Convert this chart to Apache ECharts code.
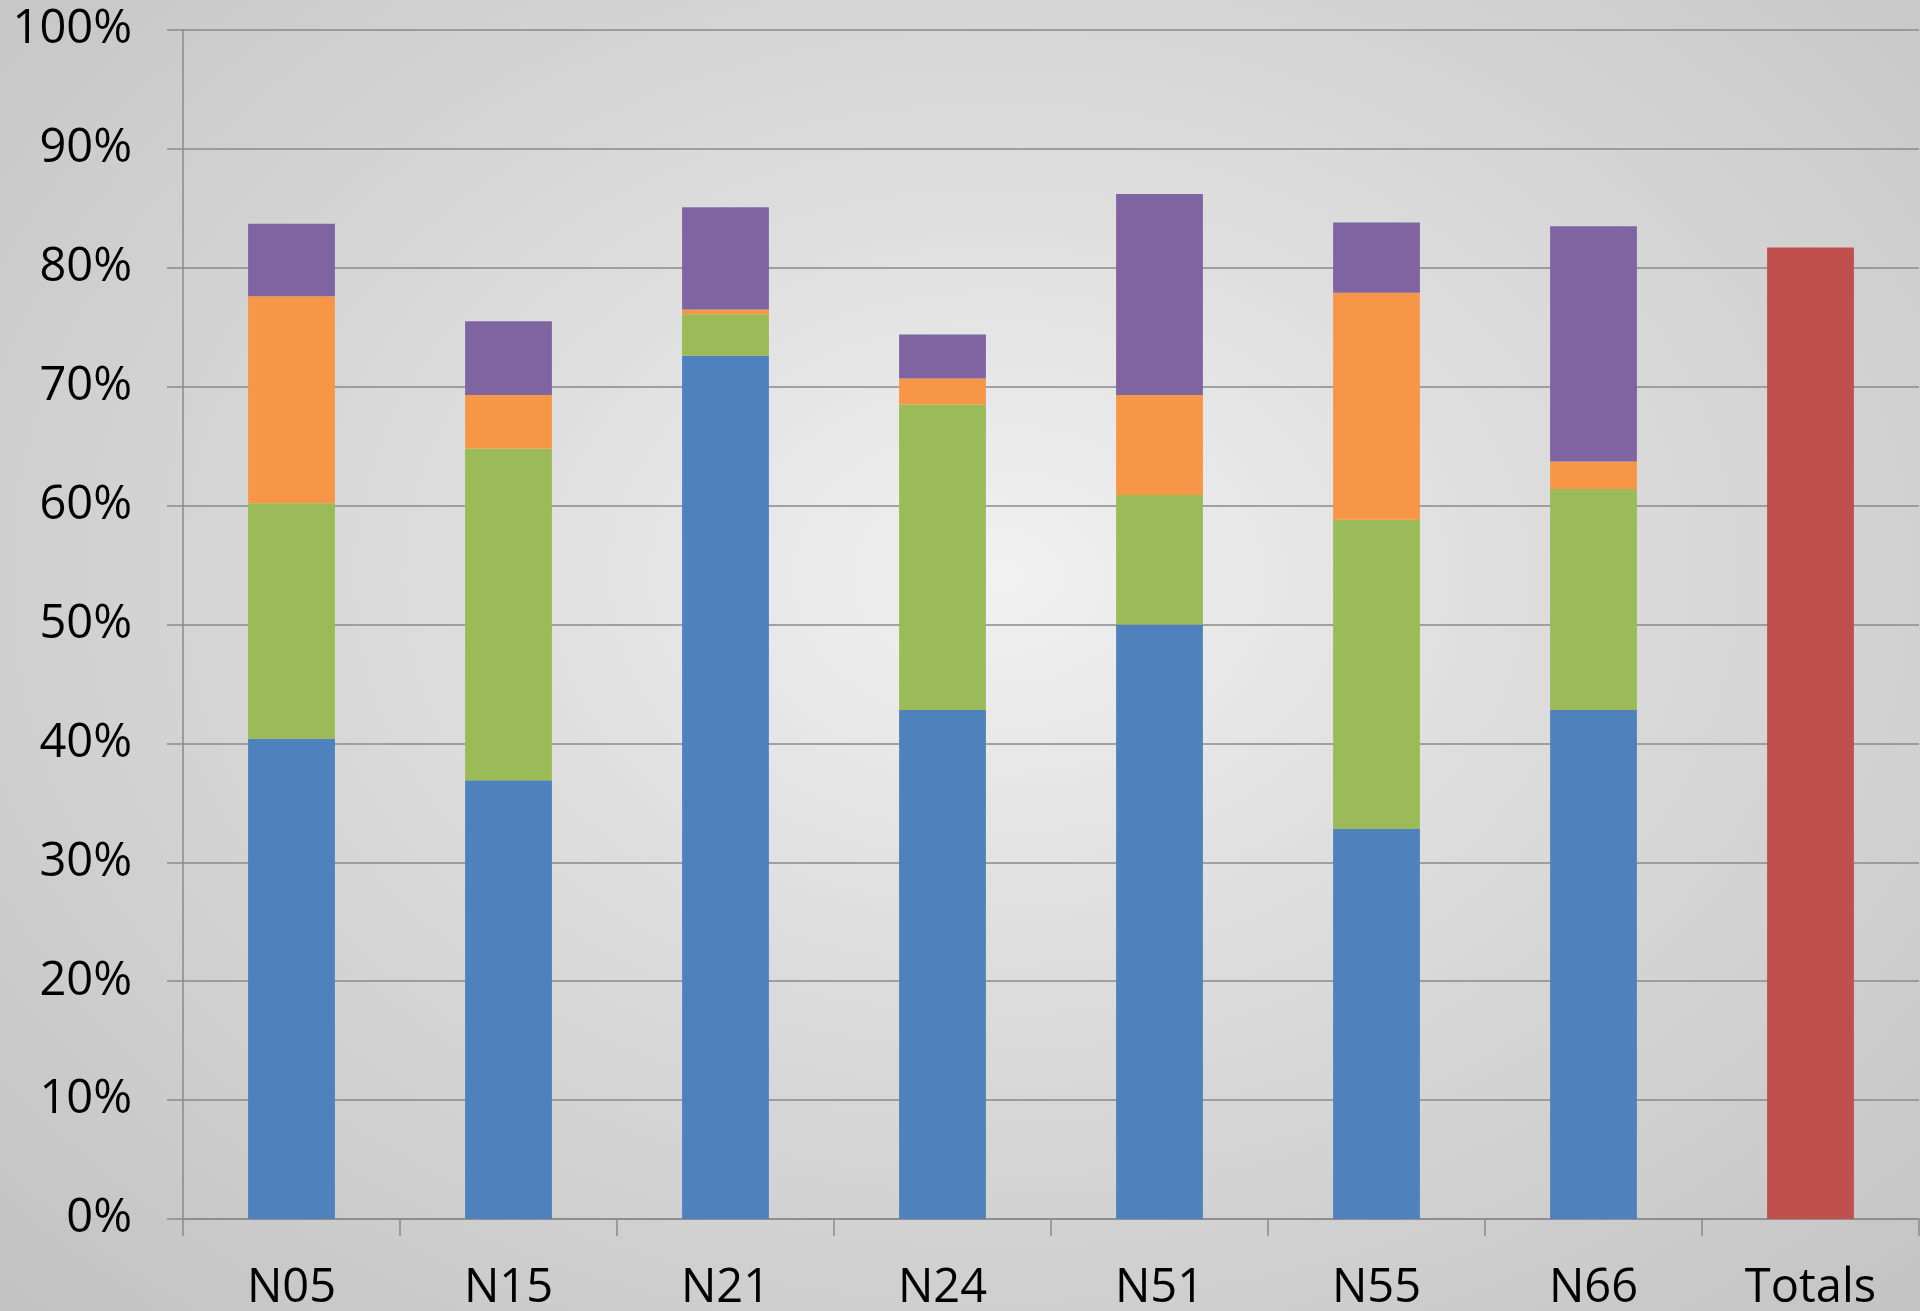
<!DOCTYPE html>
<html>
<head>
<meta charset="utf-8">
<script src="https://cdn.jsdelivr.net/npm/echarts@6/dist/echarts.min.js"></script>
<style>
html,body{margin:0;padding:0;width:1920px;height:1311px;overflow:hidden;}
#chart{width:1920px;height:1311px;background:radial-gradient(ellipse farthest-corner at 52% 44%, #f1f1f1 0%, #dcdcdc 40%, #c2c2c2 100%);}
</style>
</head>
<body>
<div id="chart"></div>
<script>
var categories = ['N05','N15','N21','N24','N51','N55','N66','Totals'];
var blueValues   = [40.4, 36.9, 72.6, 42.8, 50.0, 32.8, 42.8, '-'];
var greenValues  = [19.8, 27.9, 3.5, 25.7, 10.9, 26.0, 18.6, '-'];
var orangeValues = [17.4, 4.5, 0.4, 2.2, 8.4, 19.1, 2.3, '-'];
var purpleValues = [6.1, 6.2, 8.6, 3.7, 16.9, 5.9, 19.8, '-'];
var totalValues  = ['-', '-', '-', '-', '-', '-', '-', 81.7];
var yTicks = [0,10,20,30,40,50,60,70,80,90,100];

var chart = echarts.init(document.getElementById('chart'), null, {renderer:'canvas'});
var font = '"Open Sans", "Noto Sans", sans-serif';
function bar(name, data, color){
  return {name:name, type:'bar', stack:'a', data:data, barWidth:'40%',
    itemStyle:{color:color}, emphasis:{disabled:true}};
}
chart.setOption({
  backgroundColor:'transparent',
  animation:false,
  grid:{left:183, right:1, top:30, bottom:92, containLabel:false, outerBoundsMode:'none'},
  xAxis:{type:'category', data:categories, boundaryGap:true,
    axisLine:{show:true, lineStyle:{color:'#8a8a8a', width:1.5}},
    axisTick:{show:true, length:17, alignWithLabel:false, lineStyle:{color:'#8a8a8a', width:1.5}},
    axisLabel:{color:'#000', fontSize:47, fontFamily:font, margin:46, interval:0}},
  yAxis:{type:'value', min:yTicks[0], max:yTicks[yTicks.length-1], interval:10,
    axisLine:{show:true, lineStyle:{color:'#8a8a8a', width:1.5}},
    axisTick:{show:true, length:16, lineStyle:{color:'#8a8a8a', width:1.5}},
    splitLine:{show:true, lineStyle:{color:'#8a8a8a', width:1.5}},
    axisLabel:{color:'#000', fontSize:47, fontFamily:font, margin:51, formatter:'{value}%'}},
  series:[
    bar('Blue', blueValues, '#4F81BD'),
    bar('Green', greenValues, '#9BBB59'),
    bar('Orange', orangeValues, '#F79646'),
    bar('Purple', purpleValues, '#8064A2'),
    bar('Totals', totalValues, '#C0504D')
  ]
});
</script>
</body>
</html>
